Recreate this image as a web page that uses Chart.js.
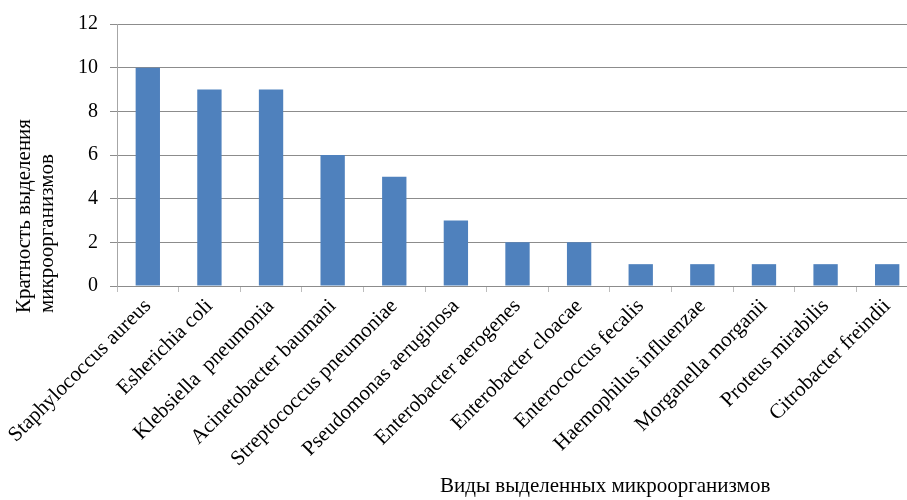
<!DOCTYPE html>
<html>
<head>
<meta charset="utf-8">
<script src="https://cdn.jsdelivr.net/npm/chart.js@4.4.1/dist/chart.umd.min.js"></script>
<style>
  html, body { margin: 0; padding: 0; background: #ffffff; overflow: hidden; }
  #wrap { width: 918px; height: 500px; }
</style>
</head>
<body>
<div id="wrap"><canvas id="chart" width="918" height="500"></canvas></div>
<script>
// Species of isolated microorganisms and how many times each was isolated
const species = [
  'Staphylococcus aureus',
  'Esherichia coli',
  'Klebsiella  pneumonia',
  'Acinetobacter baumani',
  'Streptococcus pneumoniae',
  'Pseudomonas aeruginosa',
  'Enterobacter aerogenes',
  'Enterobacter cloacae',
  'Enterococcus fecalis',
  'Haemophilus influenzae',
  'Morganella morganii',
  'Proteus mirabilis',
  'Citrobacter freindii'
];
const isolationCounts = [10, 9, 9, 6, 5, 3, 2, 2, 1, 1, 1, 1, 1];
const yTicks = [0, 2, 4, 6, 8, 10, 12];

const yTitleLines = ['Кратность выделения', 'микроорганизмов'];
const xTitle = 'Виды выделенных микроорганизмов';

const FONT = '"Liberation Serif", "Times New Roman", serif';

// Axis titles drawn by hand so they can sit start-aligned like the original layout
const axisTitles = {
  id: 'axisTitles',
  afterDraw(chart) {
    const ctx = chart.ctx;
    ctx.save();
    ctx.fillStyle = '#000000';
    ctx.font = '21px ' + FONT;
    ctx.textAlign = 'left';
    ctx.textBaseline = 'alphabetic';
    const baseX = [30, 53];
    yTitleLines.forEach((line, i) => {
      ctx.save();
      ctx.translate(baseX[i], 313);
      ctx.rotate(-Math.PI / 2);
      ctx.fillText(line, 0, 0);
      ctx.restore();
    });
    ctx.fillText(xTitle, 440, 492);
    ctx.restore();
  }
};

new Chart(document.getElementById('chart'), {
  type: 'bar',
  data: {
    labels: species,
    datasets: [{
      data: isolationCounts,
      backgroundColor: '#4F81BD',
      borderWidth: 0,
      categoryPercentage: 1.0,
      barPercentage: 0.395
    }]
  },
  options: {
    responsive: false,
    animation: false,
    devicePixelRatio: 1,
    layout: { autoPadding: false, padding: { top: 22, left: 0, right: 0, bottom: 0 } },
    plugins: { legend: { display: false }, tooltip: { enabled: false } },
    scales: {
      x: {
        afterFit(scale) { scale.height = 214; },
        grid: {
          offset: true,
          drawOnChartArea: false,
          drawTicks: true,
          tickLength: 6,
          color: '#BDBDBD'
        },
        border: { color: '#8C8C8C' },
        ticks: {
          autoSkip: false,
          maxRotation: 45,
          minRotation: 45,
          padding: 2,
          color: '#000000',
          font: { family: FONT, size: 21 }
        }
      },
      y: {
        min: 0,
        max: 12,
        afterFit(scale) { scale.width = 117; },
        afterBuildTicks(scale) { scale.ticks = yTicks.map(v => ({ value: v })); },
        grid: {
          color: '#8C8C8C',
          tickLength: 7,
          drawTicks: true
        },
        border: { color: '#A6A6A6' },
        ticks: {
          padding: 12,
          color: '#000000',
          font: { family: FONT, size: 20 }
        }
      }
    }
  },
  plugins: [axisTitles]
});
</script>
</body>
</html>
